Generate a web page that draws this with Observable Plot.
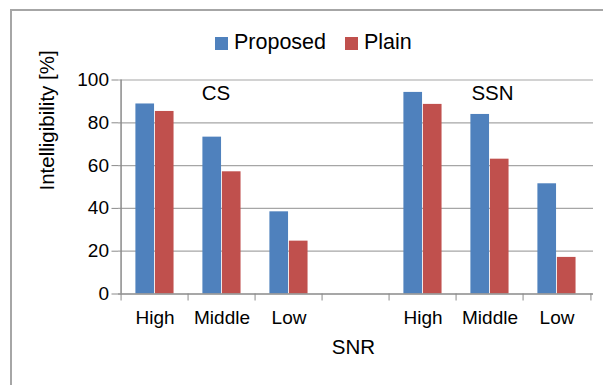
<!DOCTYPE html>
<html>
<head>
<meta charset="utf-8">
<script src="https://cdn.jsdelivr.net/npm/d3@7"></script>
<script src="https://cdn.jsdelivr.net/npm/@observablehq/plot@0.6"></script>
<style>
  html, body { margin: 0; padding: 0; background: #fff; overflow: hidden; }
  #wrap { position: relative; width: 603px; height: 385px; overflow: hidden; font-family: "Liberation Sans", Arial, sans-serif; }
  #border { position: absolute; left: 10px; top: 9px; width: 800px; height: 600px; border-left: 2px solid #a6a6a6; border-top: 2px solid #a6a6a6; box-sizing: border-box; }
  #chart { position: absolute; left: 0; top: 0; }
  .legend { position: absolute; top: 30px; left: 0; height: 28px; }
  .sw { position: absolute; top: 7px; width: 13px; height: 13px; }
  .lt { position: absolute; top: 0px; font-size: 21.5px; line-height: 25px; color: #000; white-space: nowrap; }
</style>
</head>
<body>
<div id="wrap"><div id="border"></div><div id="chart"></div><div class="legend" id="legend"></div></div>
<script>
// ---- data ----
const slots = ["CS-High", "CS-Middle", "CS-Low", "gap", "SSN-High", "SSN-Middle", "SSN-Low"];
const slotLabels = ["High", "Middle", "Low", "", "High", "Middle", "Low"];
const dataSlots = ["CS-High", "CS-Middle", "CS-Low", "SSN-High", "SSN-Middle", "SSN-Low"];
const series = ["Proposed", "Plain"];
const seriesColors = ["#4f81bd", "#c0504d"];
const proposed = [88.8, 73.3, 38.4, 94.2, 83.9, 51.5];
const plain = [85.3, 57.1, 24.7, 88.6, 63.0, 17.1];
const yTicks = [0, 20, 40, 60, 80, 100];
const groupNames = ["CS", "SSN"];
const groupSlots = ["CS-Middle", "SSN-Middle"];
const groupLabelY = [93.5, 93.5];

// ---- layout ----
const W = 603, H = 385;
const mL = 118, mR = 10, mT = 79.5, mB = 91.5;
const bw = (W - mL - mR) / slots.length;
const font = '"Liberation Sans", Arial, sans-serif';

const rows = [];
dataSlots.forEach((s, i) => {
  rows.push({slot: s, series: series[0], value: proposed[i]});
  rows.push({slot: s, series: series[1], value: plain[i]});
});
const groups = groupNames.map((g, i) => ({name: g, slot: groupSlots[i], y: groupLabelY[i]}));
const labelOf = new Map(slots.map((s, i) => [s, slotLabels[i]]));

const barA = 14.4, barW = 19.5;

const chart = Plot.plot({
  width: W, height: H,
  marginLeft: mL, marginRight: mR, marginTop: mT, marginBottom: mB,
  style: {fontFamily: font, fontSize: "19px", background: "transparent", color: "#000"},
  x: {type: "band", domain: slots, padding: 0},
  y: {domain: [0, 100]},
  marks: [
    Plot.gridY(yTicks.filter(d => d > 0), {stroke: "#a6a6a6", strokeOpacity: 1, strokeWidth: 1.2}),
    Plot.barY(rows.filter(d => d.series === series[0]), {x: "slot", y: "value", fill: seriesColors[0], insetLeft: barA, insetRight: bw - barA - barW}),
    Plot.barY(rows.filter(d => d.series === series[1]), {x: "slot", y: "value", fill: seriesColors[1], insetLeft: barA + barW, insetRight: bw - barA - 2 * barW}),
    Plot.ruleY([0], {stroke: "#8a8a8a", strokeWidth: 1.5}),
    Plot.ruleX([slots[0]], {y1: 0, y2: 100, dx: -bw / 2, stroke: "#8a8a8a", strokeWidth: 1.5}),
    Plot.axisY({ticks: yTicks, tickSize: 6.5, tickPadding: 3, stroke: "#8a8a8a", fill: "#000", label: null, fontSize: 19, tickFormat: d => String(d)}),
    Plot.axisX(slots, {tickSize: 7, tickFormat: () => "", dx: -bw / 2, stroke: "#8a8a8a", label: null}),
    Plot.axisX([slots[slots.length - 1]], {tickSize: 7, tickFormat: () => "", dx: bw / 2, stroke: "#8a8a8a", label: null}),
    Plot.axisX({tickSize: 0, tickPadding: 16.5, tickFormat: d => labelOf.get(d), fill: "#000", fontSize: 19, label: null}),
    Plot.text(groups.slice(0, 1), {x: "slot", y: "y", text: "name", dx: -6, fontSize: 20.5, fill: "#000", lineAnchor: "middle"}),
    Plot.text(groups.slice(1), {x: "slot", y: "y", text: "name", dx: 2.5, fontSize: 20.5, fill: "#000", lineAnchor: "middle"}),
    Plot.text(["SNR"], {frameAnchor: "bottom", dx: -2.5, dy: 53.5, fontSize: 20.5, fill: "#000", lineAnchor: "middle"}),
    Plot.text(["Intelligibility [%]"], {frameAnchor: "left", rotate: -90, dx: -71.5, dy: 3.5, fontSize: 20.5, fill: "#000", lineAnchor: "middle"})
  ]
});
document.getElementById("chart").appendChild(chart);

// ---- legend ----
const legend = document.getElementById("legend");
const swLeft = [215, 345];
series.forEach((s, i) => {
  const sw = document.createElement("div");
  sw.className = "sw";
  sw.style.left = swLeft[i] + "px";
  sw.style.background = seriesColors[i];
  legend.appendChild(sw);
  const t = document.createElement("div");
  t.className = "lt";
  t.style.left = (swLeft[i] + 19) + "px";
  t.textContent = s;
  legend.appendChild(t);
});
</script>
</body>
</html>
